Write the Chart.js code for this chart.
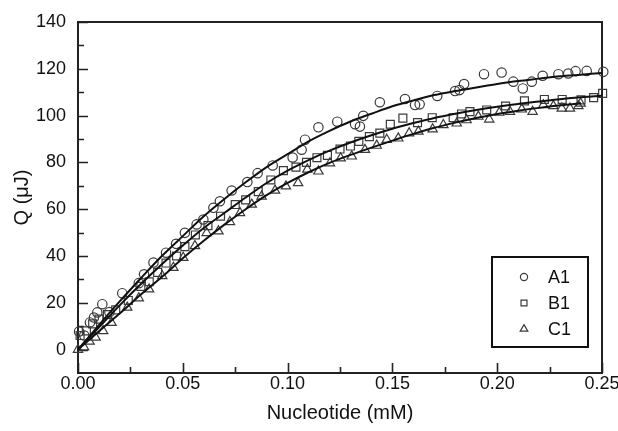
<!DOCTYPE html>
<html>
<head>
<meta charset="utf-8">
<script src="https://cdn.jsdelivr.net/npm/chart.js@4/dist/chart.umd.min.js"></script>
<style>
  html, body { margin: 0; padding: 0; background: #fff; }
  #wrap { width: 618px; height: 431px; }
</style>
</head>
<body>
<div id="wrap"><canvas id="myChart" width="618" height="431"></canvas></div>
<script>
// measured points, [x (mM), Q (uJ)]
var a1Points = [
  [0.0005, 7.7], [0.003, 6], [0.0057, 11.6], [0.0076, 13.7], [0.0092, 15.9], [0.0116, 19.4],
  [0.015, 16], [0.0211, 24.1], [0.029, 28.4], [0.0315, 32.2], [0.036, 37.2], [0.042, 41.4],
  [0.0468, 45.2], [0.051, 49.9], [0.0566, 53.5], [0.0598, 55.6], [0.0646, 60.6], [0.0677, 63.4],
  [0.0733, 68], [0.0808, 71.6], [0.0857, 75.4], [0.0929, 78.7], [0.1024, 82.1], [0.1067, 85.4],
  [0.1083, 89.7], [0.1147, 95], [0.1237, 97.4], [0.1322, 96.3], [0.1345, 95.3], [0.1361, 99.9],
  [0.144, 105.7], [0.156, 107.1], [0.1608, 104.5], [0.163, 104.8], [0.1714, 108.4], [0.1799, 110.5],
  [0.182, 110.9], [0.1842, 113.5], [0.1937, 117.7], [0.2021, 118.4], [0.2077, 114.5], [0.2122, 111.6],
  [0.2165, 114.5], [0.2217, 117], [0.2292, 117.7], [0.2339, 118], [0.2374, 119], [0.2427, 119.1],
  [0.2506, 118.7]
];
var b1Points = [
  [0.001, 6], [0.004, 8], [0.007, 11], [0.01, 13], [0.014, 15], [0.018, 17], [0.024, 21],
  [0.03, 27], [0.034, 29], [0.038, 33], [0.042, 37], [0.047, 40], [0.051, 44], [0.056, 49],
  [0.062, 53], [0.068, 57], [0.075, 62], [0.08, 64], [0.086, 67.5], [0.092, 72.5], [0.098, 76.5],
  [0.104, 78], [0.109, 80], [0.114, 82], [0.119, 83], [0.125, 85.7], [0.13, 87], [0.134, 89],
  [0.139, 91], [0.144, 92.5], [0.149, 96.3], [0.155, 98.9], [0.162, 97], [0.169, 99.1],
  [0.179, 99.1], [0.183, 100.7], [0.187, 101.7], [0.195, 102.4], [0.204, 104.1], [0.213, 106.3],
  [0.2225, 106.9], [0.231, 106.9], [0.24, 106.7], [0.246, 107.7], [0.2503, 109.5]
];
var c1Points = [
  [0.0, 0], [0.0029, 1], [0.0055, 3.5], [0.0084, 5.2], [0.012, 8], [0.016, 11.5], [0.0235, 18],
  [0.029, 22], [0.0339, 25.8], [0.0402, 31.5], [0.0455, 35], [0.0502, 39.3], [0.0558, 44.3],
  [0.0614, 49.9], [0.067, 50.6], [0.0725, 54.6], [0.0773, 58.4], [0.0829, 62], [0.0876, 65.5],
  [0.094, 68], [0.0992, 69.8], [0.105, 71.2], [0.1094, 77], [0.1147, 76.2], [0.1202, 79.7],
  [0.1253, 81.8], [0.1306, 82.6], [0.1369, 85.4], [0.1425, 87.2], [0.1473, 89.7], [0.1528, 90.3],
  [0.158, 92.5], [0.1624, 93.2], [0.1692, 94.2], [0.1743, 96], [0.1807, 96.7], [0.1854, 98.1],
  [0.191, 99.6], [0.1962, 98.4], [0.201, 101.3], [0.2061, 101.7], [0.2117, 102.7], [0.2169, 101.7],
  [0.222, 104.5], [0.2268, 104.1], [0.2308, 103.1], [0.2347, 103.1], [0.2387, 104.1], [0.2398, 105.2]
];

// fitted curves
var fitX = [0, 0.01, 0.02, 0.03, 0.04, 0.05, 0.06, 0.07, 0.08, 0.09, 0.10, 0.11, 0.12, 0.13,
            0.14, 0.15, 0.16, 0.17, 0.18, 0.19, 0.20, 0.21, 0.22, 0.23, 0.24, 0.25];
var fitA1 = [0, 10.5, 20.7, 30.5, 40, 48.5, 57, 64.5, 71.5, 78, 83.5, 89, 93.5, 97.5,
             100.8, 104, 106.5, 108.8, 110.5, 112, 113.5, 114.8, 115.8, 116.8, 117.5, 118.2];
var fitB1 = [0, 9.5, 19, 28, 36.5, 44.5, 52, 58.5, 65, 71.2, 76.5, 81, 85, 88.5,
             91.6, 94.4, 96.8, 99, 100.8, 102.4, 103.8, 105, 106, 107, 107.8, 108.5];
var fitC1 = [0, 7.8, 15.5, 23.5, 31, 39, 46.5, 53.5, 60, 66, 71.2, 75.8, 79.8, 83.2,
             86.3, 89.3, 92.2, 94.8, 97, 99, 100.7, 102.1, 103.3, 104.4, 105.3];

var seriesNames = ['A1', 'B1', 'C1'];
var seriesShapes = ['circle', 'rect', 'triangle'];

var xTicks = [0, 0.05, 0.10, 0.15, 0.20, 0.25];
var xMinorTicks = [0.025, 0.075, 0.125, 0.175, 0.225];
var yTicks = [0, 20, 40, 60, 80, 100, 120, 140];
var yMinorTicks = [10, 30, 50, 70, 90, 110, 130];

function toXY(arr) {
  return arr.map(function (p) { return { x: p[0], y: p[1] }; });
}
function fitXY(ys) {
  return ys.map(function (y, i) { return { x: fitX[i], y: y }; });
}

var markColor = '#3a3a3a';
var fontFam = '"Liberation Sans", Arial, Helvetica, sans-serif';

function pointSet(label, pts, shape, r) {
  return {
    label: label,
    data: toXY(pts),
    showLine: false,
    pointStyle: shape,
    pointRadius: r,
    pointHoverRadius: r,
    pointBorderWidth: 1.2,
    pointBorderColor: markColor,
    pointBackgroundColor: 'rgba(0,0,0,0)',
    clip: false
  };
}
function lineSet(ys) {
  return {
    label: '',
    data: fitXY(ys),
    showLine: true,
    borderColor: '#111',
    borderWidth: 2,
    pointRadius: 0,
    tension: 0.4,
    cubicInterpolationMode: 'monotone',
    fill: false,
    clip: false
  };
}

// axes frame, inward ticks and legend box
var framePlugin = {
  id: 'frame',
  beforeDatasetsDraw: function (chart) {
    var ctx = chart.ctx, a = chart.chartArea;
    var xs = chart.scales.x, ys = chart.scales.y;
    ctx.save();
    ctx.strokeStyle = '#222';
    ctx.lineWidth = 2;
    ctx.strokeRect(a.left, a.top, a.right - a.left, a.bottom - a.top);
    ctx.lineWidth = 1.6;
    ctx.beginPath();
    xTicks.forEach(function (v) {
      var px = Math.round(xs.getPixelForValue(v)) + 0.5;
      ctx.moveTo(px, a.bottom); ctx.lineTo(px, a.bottom - 10);
    });
    xMinorTicks.forEach(function (v) {
      var px = Math.round(xs.getPixelForValue(v)) + 0.5;
      ctx.moveTo(px, a.bottom); ctx.lineTo(px, a.bottom - 6);
    });
    yTicks.forEach(function (v) {
      var py = Math.round(ys.getPixelForValue(v)) + 0.5;
      ctx.moveTo(a.left, py); ctx.lineTo(a.left + 10, py);
    });
    yMinorTicks.forEach(function (v) {
      var py = Math.round(ys.getPixelForValue(v)) + 0.5;
      ctx.moveTo(a.left, py); ctx.lineTo(a.left + 6, py);
    });
    ctx.stroke();
    ctx.restore();
  },
  afterDraw: function (chart) {
    var ctx = chart.ctx;
    var bx = 492, by = 257, bw = 96, bh = 90;
    ctx.save();
    ctx.fillStyle = '#fff';
    ctx.fillRect(bx, by, bw, bh);
    ctx.strokeStyle = '#111';
    ctx.lineWidth = 2;
    ctx.strokeRect(bx, by, bw, bh);
    ctx.font = '18px ' + fontFam;
    ctx.textBaseline = 'middle';
    ctx.textAlign = 'left';
    var sizes = [3.6, 4.2, 4.4];
    seriesNames.forEach(function (name, i) {
      var cy = by + 20 + i * 26;
      ctx.strokeStyle = markColor;
      ctx.fillStyle = 'rgba(0,0,0,0)';
      ctx.lineWidth = 1.2;
      Chart.helpers.drawPoint(ctx, { pointStyle: seriesShapes[i], radius: sizes[i], rotation: 0, borderWidth: 1.2 }, 524, cy);
      ctx.fillStyle = '#111';
      ctx.fillText(name, 548, cy + 1);
    });
    ctx.restore();
  }
};

var ctx = document.getElementById('myChart').getContext('2d');
var myChart = new Chart(ctx, {
  type: 'scatter',
  data: {
    datasets: [
      lineSet(fitA1),
      lineSet(fitB1),
      lineSet(fitC1),
      pointSet(seriesNames[0], a1Points, seriesShapes[0], 4.7),
      pointSet(seriesNames[1], b1Points, seriesShapes[1], 5.6),
      pointSet(seriesNames[2], c1Points, seriesShapes[2], 5.4)
    ]
  },
  options: {
    responsive: false,
    animation: false,
    layout: { padding: { top: 22, right: 16, left: 0, bottom: 0 } },
    plugins: {
      legend: { display: false },
      tooltip: { enabled: false }
    },
    scales: {
      x: {
        type: 'linear',
        min: 0,
        max: 0.25,
        afterFit: function (s) { s.height = 58; s.paddingLeft = 0; s.paddingRight = 0; },
        afterBuildTicks: function (s) { s.ticks = xTicks.map(function (v) { return { value: v }; }); },
        grid: { display: false, drawTicks: false },
        border: { display: false },
        ticks: {
          padding: 0,
          color: '#111',
          font: { family: fontFam, size: 18 },
          callback: function (v) { return Number(v).toFixed(2); }
        },
        title: {
          display: true,
          text: 'Nucleotide (mM)',
          color: '#111',
          font: { family: fontFam, size: 20 },
          padding: { top: 0, bottom: 6 }
        }
      },
      y: {
        type: 'linear',
        min: -10,
        max: 140,
        afterFit: function (s) { s.width = 78; s.paddingTop = 0; s.paddingBottom = 0; },
        afterBuildTicks: function (s) { s.ticks = yTicks.map(function (v) { return { value: v }; }); },
        grid: { display: false, drawTicks: false },
        border: { display: false },
        ticks: {
          padding: 12,
          color: '#111',
          font: { family: fontFam, size: 18 }
        },
        title: {
          display: true,
          text: 'Q (μJ)',
          color: '#111',
          font: { family: fontFam, size: 20 },
          padding: { top: 10, bottom: 0 }
        }
      }
    }
  },
  plugins: [framePlugin]
});
</script>
</body>
</html>
